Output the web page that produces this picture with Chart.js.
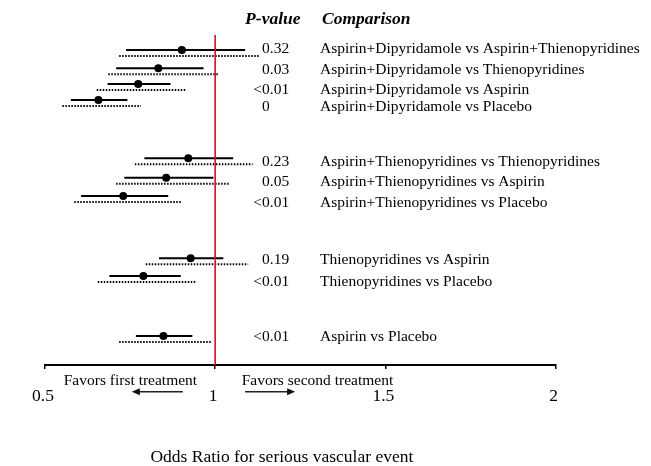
<!DOCTYPE html>
<html><head><meta charset="utf-8">
<script src="https://cdn.jsdelivr.net/npm/chart.js@4"></script>
<style>html,body{margin:0;padding:0;background:#fff;} canvas{display:block;}</style>
</head><body>
<canvas id="c" width="651" height="466"></canvas>
<script>
// ---- data ----
const comparisons = [
  'Aspirin+Dipyridamole vs Aspirin+Thienopyridines',
  'Aspirin+Dipyridamole vs Thienopyridines',
  'Aspirin+Dipyridamole vs Aspirin',
  'Aspirin+Dipyridamole vs Placebo',
  'Aspirin+Thienopyridines vs Thienopyridines',
  'Aspirin+Thienopyridines vs Aspirin',
  'Aspirin+Thienopyridines vs Placebo',
  'Thienopyridines vs Aspirin',
  'Thienopyridines vs Placebo',
  'Aspirin vs Placebo'
];
const pValues   = ['0.32','0.03','<0.01','0','0.23','0.05','<0.01','0.19','<0.01','<0.01'];
const estimates = [0.902,0.833,0.774,0.657,0.921,0.856,0.730,0.928,0.789,0.848];
const ciLow     = [0.738,0.709,0.684,0.576,0.792,0.733,0.606,0.835,0.689,0.767];
const ciHigh    = [1.088,0.966,0.869,0.742,1.053,0.995,0.862,1.024,0.899,0.933];
const piLow     = [0.718,0.686,0.652,0.551,0.764,0.709,0.586,0.796,0.655,0.718];
const piHigh    = [1.132,1.009,0.916,0.782,1.110,1.044,0.902,1.097,0.946,0.988];
const rowPos    = [1.5,3.33,4.9,6.5,12.33,14.27,16.1,22.33,24.1,30.1];
const labelPos  = [1.4,3.5,5.45,7.2,12.7,14.7,16.8,22.5,24.7,30.15];
const xTicks    = [0.5,1,1.5,2];
const refValue  = 1;
const xTitle    = 'Odds Ratio for serious vascular event';
const favorsLeft  = 'Favors first treatment';
const favorsRight = 'Favors second treatment';
const headerP = 'P-value';
const headerC = 'Comparison';

// ---- build ----
const SERIF = '"Liberation Serif", "Times New Roman", serif';
const DOT_OFFSET = 0.6;
function segments(lo, hi, dy) {
  const out = [];
  lo.forEach((l, i) => {
    out.push({x: l, y: rowPos[i] + dy}, {x: hi[i], y: rowPos[i] + dy}, {x: hi[i], y: null});
  });
  return out;
}

const annot = {
  id: 'annot',
  afterDraw(chart) {
    const {ctx, chartArea} = chart;
    const xs = chart.scales.x, ys = chart.scales.y;
    const b = chartArea.bottom;
    ctx.save();
    ctx.fillStyle = '#000';
    ctx.textAlign = 'left';
    // headers
    ctx.font = 'italic bold 17.5px ' + SERIF;
    ctx.textBaseline = 'alphabetic';
    ctx.fillText(headerP, xs.getPixelForValue(1.088), ys.getPixelForValue(-1.1));
    ctx.fillText(headerC, xs.getPixelForValue(1.314), ys.getPixelForValue(-1.1));
    // rows
    ctx.font = '15.5px ' + SERIF;
    ctx.textBaseline = 'middle';
    const px = xs.getPixelForValue(1.1377);
    const cx = xs.getPixelForValue(1.308);
    comparisons.forEach((c, i) => {
      const yy = ys.getPixelForValue(labelPos[i]);
      let p = pValues[i];
      if (p.startsWith('<')) {
        ctx.textAlign = 'right';
        ctx.fillText('<', px, yy);
        p = p.slice(1);
      }
      ctx.textAlign = 'left';
      ctx.fillText(p, px, yy);
      ctx.fillText(c, cx, yy);
    });
    // favors
    ctx.textBaseline = 'alphabetic';
    ctx.textAlign = 'left';
    ctx.fillText(favorsLeft, xs.getPixelForValue(0.555), b + 20);
    ctx.fillText(favorsRight, xs.getPixelForValue(1.078), b + 20);
    // arrows
    const ay = b + 26.7;
    ctx.strokeStyle = '#222'; ctx.fillStyle = '#111'; ctx.lineWidth = 1.6;
    const drawArrow = (from, to) => {
      const x1 = xs.getPixelForValue(from), x2 = xs.getPixelForValue(to);
      const dir = Math.sign(x2 - x1);
      ctx.beginPath(); ctx.moveTo(x1, ay); ctx.lineTo(x2 - dir * 6, ay); ctx.stroke();
      ctx.beginPath(); ctx.moveTo(x2, ay); ctx.lineTo(x2 - dir * 8, ay - 3.5); ctx.lineTo(x2 - dir * 8, ay + 3.5); ctx.closePath(); ctx.fill();
    };
    drawArrow(0.905, 0.755);
    drawArrow(1.088, 1.235);
    // x title
    ctx.fillStyle = '#000';
    ctx.font = '17.5px ' + SERIF;
    ctx.textAlign = 'center';
    ctx.fillText(xTitle, xs.getPixelForValue(1.196), b + 97);
    ctx.restore();
  }
};

new Chart(document.getElementById('c'), {
  type: 'scatter',
  data: {
    datasets: [
      {
        label: 'reference',
        data: [{x: refValue, y: 0}, {x: refValue, y: 33}],
        showLine: true, borderColor: '#ff0000', borderWidth: 1.6, pointRadius: 0
      },
      {
        label: 'dotted interval',
        data: segments(piLow, piHigh, DOT_OFFSET),
        showLine: true, spanGaps: false, borderColor: '#000', borderWidth: 2,
        borderDash: [1.5, 1.5], pointRadius: 0
      },
      {
        label: 'confidence interval',
        data: segments(ciLow, ciHigh, 0),
        showLine: true, spanGaps: false, borderColor: '#000', borderWidth: 2, pointRadius: 0
      },
      {
        label: 'estimate',
        data: estimates.map((e, i) => ({x: e, y: rowPos[i]})),
        pointRadius: 4, pointBackgroundColor: '#000', pointBorderColor: '#000', pointBorderWidth: 0
      }
    ]
  },
  options: {
    responsive: false,
    animation: false,
    layout: {padding: {left: 45, right: 95.5, top: 35, bottom: 0}},
    plugins: {legend: {display: false}, tooltip: {enabled: false}},
    scales: {
      x: {
        type: 'linear', min: 0.5, max: 2,
        afterBuildTicks: s => { s.ticks = xTicks.map(v => ({value: v})); },
        afterFit: s => { s.height = 101; },
        ticks: {color: '#000', font: {family: SERIF, size: 17.5}, padding: 17, labelOffset: -2,
                callback: v => String(v), maxRotation: 0},
        grid: {drawOnChartArea: false, drawTicks: true, tickLength: 4, color: '#000', lineWidth: 1.5},
        border: {display: true, color: '#000', width: 2}
      },
      y: {type: 'linear', reverse: true, min: 0, max: 33, display: false}
    }
  },
  plugins: [annot]
});
</script>
</body></html>
